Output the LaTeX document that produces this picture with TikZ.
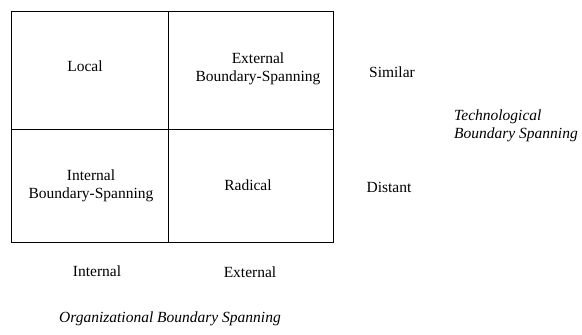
\documentclass[tikz,border=0pt]{standalone}
\usepackage{fontspec}
\setmainfont{Liberation Serif}
\usetikzlibrary{positioning}

\begin{document}
\begin{tikzpicture}[x=1pt,y=-1pt,
        every node/.style={font=\fontsize{15.5}{18.5}\selectfont,align=center,inner sep=0pt},
        cell/.style={draw,line width=0.9pt,anchor=north west},
        axis/.style={font=\fontsize{15.5}{18.5}\selectfont\itshape}]
        \useasboundingbox (0,0) rectangle (582,335);

        % Quadrant cells
        \node[cell,minimum width=157.5pt,minimum height=118pt] (cellLocal) at (10.5,11) {};
        \node[cell,minimum width=165pt,minimum height=118pt] (cellExt) at (168,11) {};
        \node[cell,minimum width=157.5pt,minimum height=113pt] (cellInt) at (10.5,129) {};
        \node[cell,minimum width=165pt,minimum height=113pt] (cellRad) at (168,129) {};

        % Quadrant texts
        \node (local) at (85,66) {Local};
        \node (extBS) at (258,69) {External\\Boundary-Spanning};
        \node (intBS) at (91,186) {Internal\\Boundary-Spanning};
        \node (radical) at (248,185) {Radical};

        % Technological side
        \node (similar) at (392,72) {Similar};
        \node (distant) at (389,187) {Distant};
        \node[axis,anchor=west,align=left] (techBS) at (454,126) {Technological\\Boundary Spanning};

        % Organizational side
        \node (internal) at (97,271) {Internal};
        \node (external) at (250,272) {External};
        \node[axis] (orgBS) at (170,319) {Organizational Boundary Spanning};

    \end{tikzpicture}
\end{document}
